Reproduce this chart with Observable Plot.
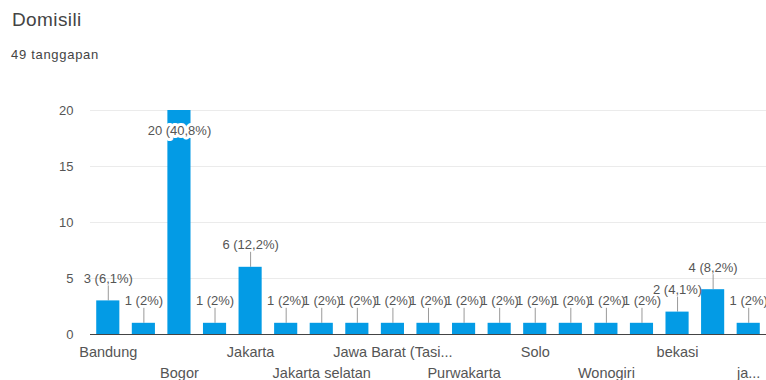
<!DOCTYPE html>
<html><head><meta charset="utf-8">
<script src="https://cdn.jsdelivr.net/npm/d3@7"></script>
<script src="https://cdn.jsdelivr.net/npm/@observablehq/plot@0.6"></script>
<style>
body{margin:0;background:#fff;width:766px;height:380px;overflow:hidden;position:relative;font-family:"Liberation Sans",Arial,sans-serif}
#title{position:absolute;left:12px;top:9px;font-size:19px;color:#444;letter-spacing:0.4px}
#sub{position:absolute;left:11px;top:47px;font-size:13px;color:#444;letter-spacing:0.7px}
#chart{position:absolute;left:0;top:80px}
</style></head><body>
<div id="title">Domisili</div>
<div id="sub">49 tanggapan</div>
<div id="chart"></div>
<script>
const categories = ["Bandung","Bekasi","Bogor","Depok","Jakarta","Jakarta Timur","Jakarta selatan","Jakarta timur","Jawa Barat (Tasikmalaya)","Karawang","Purwakarta","Semarang","Solo","Tangerang","Wonogiri","Yogyakarta","bekasi","bogor","jakarta"];
const counts = [3,1,20,1,6,1,1,1,1,1,1,1,1,1,1,1,2,4,1];
const tickLabels = ["Bandung","Bekasi","Bogor","Depok","Jakarta","Jakarta Timur","Jakarta selatan","Jakarta timur","Jawa Barat (Tasi...","Karawang","Purwakarta","Semarang","Solo","Tangerang","Wonogiri","Yogyakarta","bekasi","bogor","ja..."];
const totalResponses = 49;
const yTicks = [0,5,10,15,20];
const gridValues = [5,10,15,20];

const fmtPct = v => {
  const p = Math.round(v / totalResponses * 1000) / 10;
  return String(p).replace(".", ",");
};
const rows = categories.map((c, i) => ({cat: c, count: counts[i], label: `${counts[i]} (${fmtPct(counts[i])}%)`}));
const maxCount = d3.max(counts);
const normalRows = rows.filter(d => d.count !== maxCount);
const maxRows = rows.filter(d => d.count === maxCount);
const labelOf = Object.fromEntries(categories.map((c, i) => [c, tickLabels[i]]));
const axisRow1 = categories.filter((c, i) => i % 4 === 0);
const axisRow2 = categories.filter((c, i) => i % 4 === 2);

const chart = Plot.plot({
  width: 766,
  height: 300,
  marginTop: 30,
  marginBottom: 46,
  marginLeft: 90,
  marginRight: 0,
  style: {fontFamily: '"Liberation Sans", Arial, sans-serif', color: "#555", fontSize: "13px", background: "white"},
  x: {type: "band", domain: categories, paddingInner: 0.35, paddingOuter: 0.175, round: false, label: null},
  y: {domain: [0, 20], label: null},
  marks: [
    Plot.ruleY(gridValues, {stroke: "#ebebeb"}),
    Plot.ruleX(normalRows, {x: "cat", y1: "count", y2: "count", insetBottom: 15, stroke: "#9a9a9a"}),
    Plot.barY(rows, {x: "cat", y: "count", fill: "#039be5"}),
    Plot.ruleY([0], {stroke: "#444"}),
    Plot.axisY(yTicks, {tickSize: 0, tickPadding: 17, fontSize: 13, label: null, fill: "#555"}),
    Plot.axisX(axisRow1, {tickSize: 0, tickPadding: 12, fontSize: 14.5, tickFormat: c => labelOf[c], label: null, fill: "#555"}),
    Plot.axisX(axisRow2, {tickSize: 0, tickPadding: 33, fontSize: 14.5, tickFormat: c => labelOf[c], label: null, fill: "#555"}),
    Plot.text(normalRows, {x: "cat", y: "count", text: "label", dy: -22, fontSize: 13, fill: "#555"}),
    Plot.text(maxRows, {x: "cat", y: "count", text: "label", dy: 20, fontSize: 13, fill: "#555", stroke: "white", strokeWidth: 6})
  ]
});
document.getElementById("chart").append(chart);
</script>
</body></html>
